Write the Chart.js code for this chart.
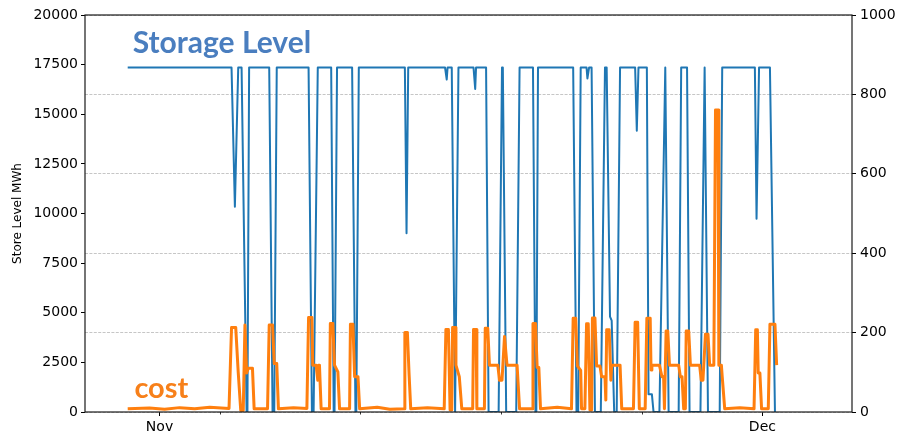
<!DOCTYPE html>
<html>
<head>
<meta charset="utf-8">
<script src="https://cdn.jsdelivr.net/npm/chart.js@4.4.1/dist/chart.umd.min.js"></script>
<style>
  html, body { margin: 0; padding: 0; background: #fff; }
  canvas { display: block; }
</style>
</head>
<body>
<canvas id="chart" width="898" height="436"></canvas>
<script>
// Time axis: hours counted from 1 Nov 00:00.

// Storage level (MWh), left axis
const storeHours = [-38, 86, 90, 94, 98, 104, 105, 107, 131, 135, 137, 140, 178, 182, 184, 189,
  205, 208, 209, 212, 230, 234, 235, 238, 293, 295, 297, 341, 343, 344, 349, 353, 354, 357,
  375, 377, 378, 390, 393, 405, 409, 410, 414, 426, 430, 446, 449, 450, 452, 494, 498, 500,
  503, 510, 511, 513, 516, 520, 527, 532, 534, 538, 540, 543, 546, 550, 568, 570, 572, 582,
  584, 588, 590, 597, 604, 608, 620, 623, 630, 633, 646, 651, 655, 669, 672, 711, 713, 716,
  729, 735];
const storeMWh = [17350, 17350, 10340, 17350, 17350, 0, 0, 17350, 17350, 0, 0, 17350, 17350, 0, 0, 17350,
  17350, 0, 0, 17350, 17350, 0, 0, 17350, 17350, 9000, 17350, 17350, 16750, 17350, 17350, 0, 0, 17350,
  17350, 16270, 17350, 17350, 0, 0, 17350, 17350, 0, 0, 17350, 17350, 0, 0, 17350, 17350, 0, 0,
  17350, 17350, 16800, 17350, 17350, 0, 0, 17350, 17350, 4800, 4600, 0, 0, 17350, 17350, 14170, 17350, 17350,
  900, 900, 0, 0, 17350, 0, 0, 17350, 17350, 0, 0, 17350, 0, 0, 17350, 17350, 9740, 17350,
  17350, 0];

// Cost, right axis
const costHours = [-38, -12, 6, 24, 42, 60, 83, 86, 91, 94, 97, 100, 102, 104, 106, 111, 113,
  129, 131, 135, 137, 140, 142, 160, 176, 178, 182, 183, 187, 189, 190, 191, 193,
  203, 204, 207, 209, 213, 215, 227, 228, 231, 233, 237, 239, 260, 275,
  292, 293, 296, 298, 300, 320, 340, 342, 345, 347, 349, 350, 353, 354, 358, 361,
  374, 375, 378, 379, 388, 389, 392, 394, 404, 406, 409, 412, 415, 427, 430,
  445, 446, 449, 451, 453, 455, 475, 492, 494, 497, 499, 503, 504,
  508, 510, 512, 514, 516, 517, 520, 522, 526, 528, 532, 533, 534, 537, 539, 540, 550, 552,
  566, 568, 571, 573, 580, 582, 586, 587, 588, 597, 600, 602, 603, 605, 607, 609, 620,
  622, 624, 626, 628, 629, 632, 634, 645, 647, 649, 652, 655, 657, 662, 664, 667, 668,
  671, 672, 675, 693, 710, 712, 714, 715, 717, 719, 727, 729, 735, 737];
const costValues = [8, 10, 7, 11, 8, 12, 9, 213, 213, 100, 4, 4, 219, 98, 110, 110, 8,
  8, 219, 219, 122, 122, 8, 11, 9, 238, 238, 118, 118, 80, 118, 118, 8,
  8, 223, 223, 118, 101, 8, 8, 221, 221, 89, 89, 8, 12, 7,
  8, 200, 200, 97, 8, 11, 8, 208, 208, 5, 5, 213, 213, 118, 89, 8,
  8, 208, 208, 8, 8, 211, 211, 118, 118, 80, 80, 190, 118, 118, 8,
  8, 223, 223, 112, 112, 8, 12, 8, 236, 236, 116, 105, 8,
  8, 222, 222, 5, 5, 237, 237, 116, 116, 89, 89, 30, 207, 207, 80, 118, 118, 8,
  8, 226, 226, 8, 8, 236, 236, 106, 118, 118, 89, 89, 8, 204, 204, 118, 118,
  89, 89, 8, 8, 204, 204, 118, 118, 80, 80, 196, 196, 118, 118, 761, 761, 118,
  118, 89, 8, 11, 8, 207, 207, 98, 98, 8, 8, 221, 221, 118];

// Axis ticks
const monthTicks = [0, 720];
const monthLabels = ['Nov', 'Dec'];
const weekTicks = [72, 240, 408, 576];

const pairs = (xs, ys) => xs.map((x, i) => ({ x: x, y: ys[i] }));
const plain = v => String(v);

Chart.defaults.font.family = "'DejaVu Sans', sans-serif";
Chart.defaults.font.size = 14;
Chart.defaults.color = '#000';

const background = {
  id: 'background',
  beforeDraw(chart) {
    const ctx = chart.ctx;
    ctx.save();
    ctx.fillStyle = '#fff';
    ctx.fillRect(0, 0, chart.width, chart.height);
    ctx.restore();
  }
};

// Axes frame, weekly minor ticks and the two series captions
const decorations = {
  id: 'decorations',
  afterDraw(chart) {
    const { ctx, chartArea: a, scales } = chart;
    ctx.save();
    ctx.strokeStyle = '#1a1a1a';
    ctx.lineWidth = 1.2;
    ctx.strokeRect(a.left, a.top, a.right - a.left, a.bottom - a.top);

    ctx.lineWidth = 0.8;
    ctx.strokeStyle = '#000';
    weekTicks.forEach(h => {
      const px = Math.round(scales.x.getPixelForValue(h)) + 0.5;
      ctx.beginPath();
      ctx.moveTo(px, a.bottom);
      ctx.lineTo(px, a.bottom + 2.5);
      ctx.stroke();
    });

    ctx.textBaseline = 'alphabetic';
    ctx.textAlign = 'left';
    ctx.font = "bold 30px Lato, 'Open Sans', sans-serif";
    ctx.fillStyle = '#4a7ebf';
    ctx.fillText('Storage Level', scales.x.getPixelForValue(-32), scales.y.getPixelForValue(18080));
    ctx.font = "bold 29px Lato, 'Open Sans', sans-serif";
    ctx.fillStyle = '#f7801a';
    ctx.fillText('cost', scales.x.getPixelForValue(-30), scales.y2.getPixelForValue(35));
    ctx.restore();
  }
};

new Chart(document.getElementById('chart'), {
  type: 'line',
  data: {
    datasets: [
      {
        label: 'Store Level',
        data: pairs(storeHours, storeMWh),
        yAxisID: 'y',
        borderColor: '#1f77b4',
        borderWidth: 2,
        pointRadius: 0,
        tension: 0,
        borderJoinStyle: 'round',
        order: 2
      },
      {
        label: 'cost',
        data: pairs(costHours, costValues),
        yAxisID: 'y2',
        borderColor: '#ff7f0e',
        borderWidth: 3,
        pointRadius: 0,
        tension: 0,
        borderJoinStyle: 'round',
        order: 1
      }
    ]
  },
  options: {
    responsive: false,
    animation: false,
    devicePixelRatio: 1,
    layout: { padding: { top: 15, left: 0, right: 0, bottom: 0 } },
    plugins: { legend: { display: false }, tooltip: { enabled: false } },
    scales: {
      x: {
        type: 'linear',
        min: -89,
        max: 827,
        afterBuildTicks: s => { s.ticks = monthTicks.map(v => ({ value: v })); },
        afterFit: s => { s.height = 24; },
        ticks: {
          autoSkip: false,
          maxRotation: 0,
          padding: 3,
          color: '#000',
          callback: v => { const i = monthTicks.indexOf(v); return i >= 0 ? monthLabels[i] : ''; }
        },
        grid: { drawOnChartArea: false, drawTicks: true, tickLength: 4, tickColor: '#000', tickWidth: 1 },
        border: { display: false }
      },
      y: {
        position: 'left',
        min: 0,
        max: 20000,
        afterFit: s => { s.width = 85; },
        ticks: { stepSize: 2500, padding: 3, color: '#000', callback: plain },
        grid: { drawOnChartArea: false, drawTicks: true, tickLength: 4, tickColor: '#000', tickWidth: 1 },
        border: { display: false },
        title: {
          display: true,
          text: 'Store Level MWh',
          color: '#000',
          font: { size: 12 },
          padding: { top: 11, bottom: 0 }
        }
      },
      y2: {
        position: 'right',
        min: 0,
        max: 1000,
        afterFit: s => { s.width = 46; },
        ticks: { stepSize: 200, padding: 4, color: '#000', callback: plain },
        grid: {
          drawOnChartArea: true,
          drawTicks: true,
          tickLength: 4,
          color: '#b8b8b8',
          lineWidth: 0.8,
          tickColor: '#000',
          tickWidth: 1,
          tickBorderDash: [],
          borderDash: [3, 1.4]
        },
        border: { display: false, dash: [3, 1.4] }
      }
    }
  },
  plugins: [background, decorations]
});
</script>
</body>
</html>
